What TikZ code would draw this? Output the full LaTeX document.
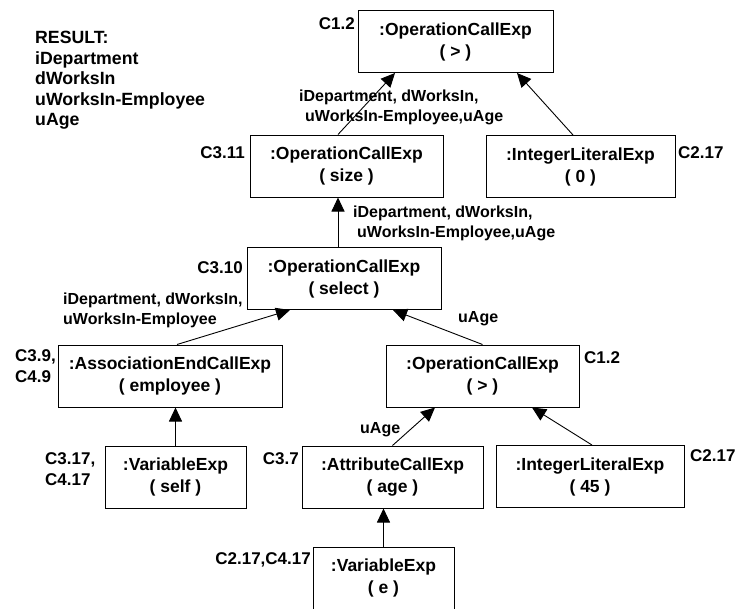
\documentclass[tikz,border=0pt]{standalone}
\usepackage{fontspec}
\setmainfont{Liberation Sans}
\usetikzlibrary{arrows.meta}

\begin{document}
\begin{tikzpicture}[x=1pt,y=1pt,yscale=-1,xscale=1,
	obj/.style={draw,line width=1pt,align=center,inner sep=0pt,minimum width=#1,minimum height=62pt,font=\bfseries\fontsize{17.5}{22}\selectfont,execute at begin node={\rule{0pt}{23pt}}},
	tag/.style={inner sep=0pt,font=\bfseries\fontsize{17}{21}\selectfont},
	flowlabel/.style={inner sep=0pt,font=\bfseries\fontsize{16}{20}\selectfont},
	flow/.style={line width=0.9pt,-{Triangle[length=14pt,width=13pt]}}]
		\useasboundingbox (0,0) rectangle (736,608);
		\node [tag,anchor=north west,align=left,font=\bfseries\fontsize{17.7}{20.5}\selectfont] (result) at (35,31) {RESULT:\\iDepartment\\dWorksIn\\uWorksIn-Employee\\uAge};
		\node [obj=195pt] (opgt) at (455.5,41.5) {:OperationCallExp\\( > )};
		\node [obj=193pt] (opsize) at (346.5,166) {:OperationCallExp\\( size )};
		\node [obj=189pt] (intzero) at (580.5,166.5) {:IntegerLiteralExp\\( 0 )};
		\node [obj=194pt] (opselect) at (344,278.5) {:OperationCallExp\\( select )};
		\node [obj=224pt] (assocemp) at (170,376) {:AssociationEndCallExp\\( employee )};
		\node [obj=193pt] (opgtlow) at (482.5,376) {:OperationCallExp\\( > )};
		\node [obj=141pt] (varself) at (175.5,477) {:VariableExp\\( self )};
		\node [obj=181pt] (attrage) at (392.5,477) {:AttributeCallExp\\( age )};
		\node [obj=188pt] (intfortyfive) at (590,476.5) {:IntegerLiteralExp\\( 45 )};
		\node [obj=141pt] (vare) at (383.5,578) {:VariableExp\\( e )};
		\node [tag,anchor=base east] (cOneTwo) at (355,29) {C1.2};
		\node [tag,anchor=base east] (cThreeEleven) at (245,158) {C3.11};
		\node [tag,anchor=base west] (cTwoSeventeen) at (678,158) {C2.17};
		\node [tag,anchor=base east] (cThreeTen) at (243,273) {C3.10};
		\node [tag,anchor=north west,align=left] (cThreeNine) at (15,349) {C3.9,\\C4.9};
		\node [tag,anchor=base west] (cOneTwoLow) at (584,363) {C1.2};
		\node [tag,anchor=north west,align=left] (cThreeSeventeen) at (45,452) {C3.17,\\C4.17};
		\node [tag,anchor=base east] (cThreeSeven) at (299,464) {C3.7};
		\node [tag,anchor=base west] (cTwoSeventeenLow) at (690,461) {C2.17};
		\node [tag,anchor=base east] (cTwoFour) at (311,564) {C2.17,C4.17};
		\node [flowlabel,anchor=north west,align=left] (lblsize) at (299,90) {iDepartment, dWorksIn,\\\hspace*{6pt}uWorksIn-Employee,uAge};
		\node [flowlabel,anchor=north west,align=left] (lblselect) at (353,206) {iDepartment, dWorksIn,\\\hspace*{4pt}uWorksIn-Employee,uAge};
		\node [flowlabel,anchor=north west,align=left] (lblemp) at (63,293) {iDepartment, dWorksIn,\\uWorksIn-Employee};
		\node [flowlabel,anchor=base west] (lblagehi) at (458,322) {uAge};
		\node [flowlabel,anchor=base west] (lblagelo) at (360,433) {uAge};
		\draw [flow] ([xshift=-8.5pt]opsize.north) -- ([xshift=-60.5pt]opgt.south);
		\draw [flow] ([xshift=-7.5pt]intzero.north) -- ([xshift=61.5pt]opgt.south);
		\draw [flow] ([xshift=-6pt]opselect.north) -- ([xshift=-8.5pt]opsize.south);
		\draw [flow] ([xshift=7pt]assocemp.north) -- ([xshift=-54pt]opselect.south);
		\draw [flow] (opgtlow.north) -- ([xshift=49pt]opselect.south);
		\draw [flow] (varself.north) -- ([xshift=5.5pt]assocemp.south);
		\draw [flow] (attrage.north) -- ([xshift=-47.5pt]opgtlow.south);
		\draw [flow] ([xshift=2pt]intfortyfive.north) -- ([xshift=49.5pt]opgtlow.south);
		\draw [flow] (vare.north) -- ([xshift=-9pt]attrage.south);
\end{tikzpicture}
\end{document}
